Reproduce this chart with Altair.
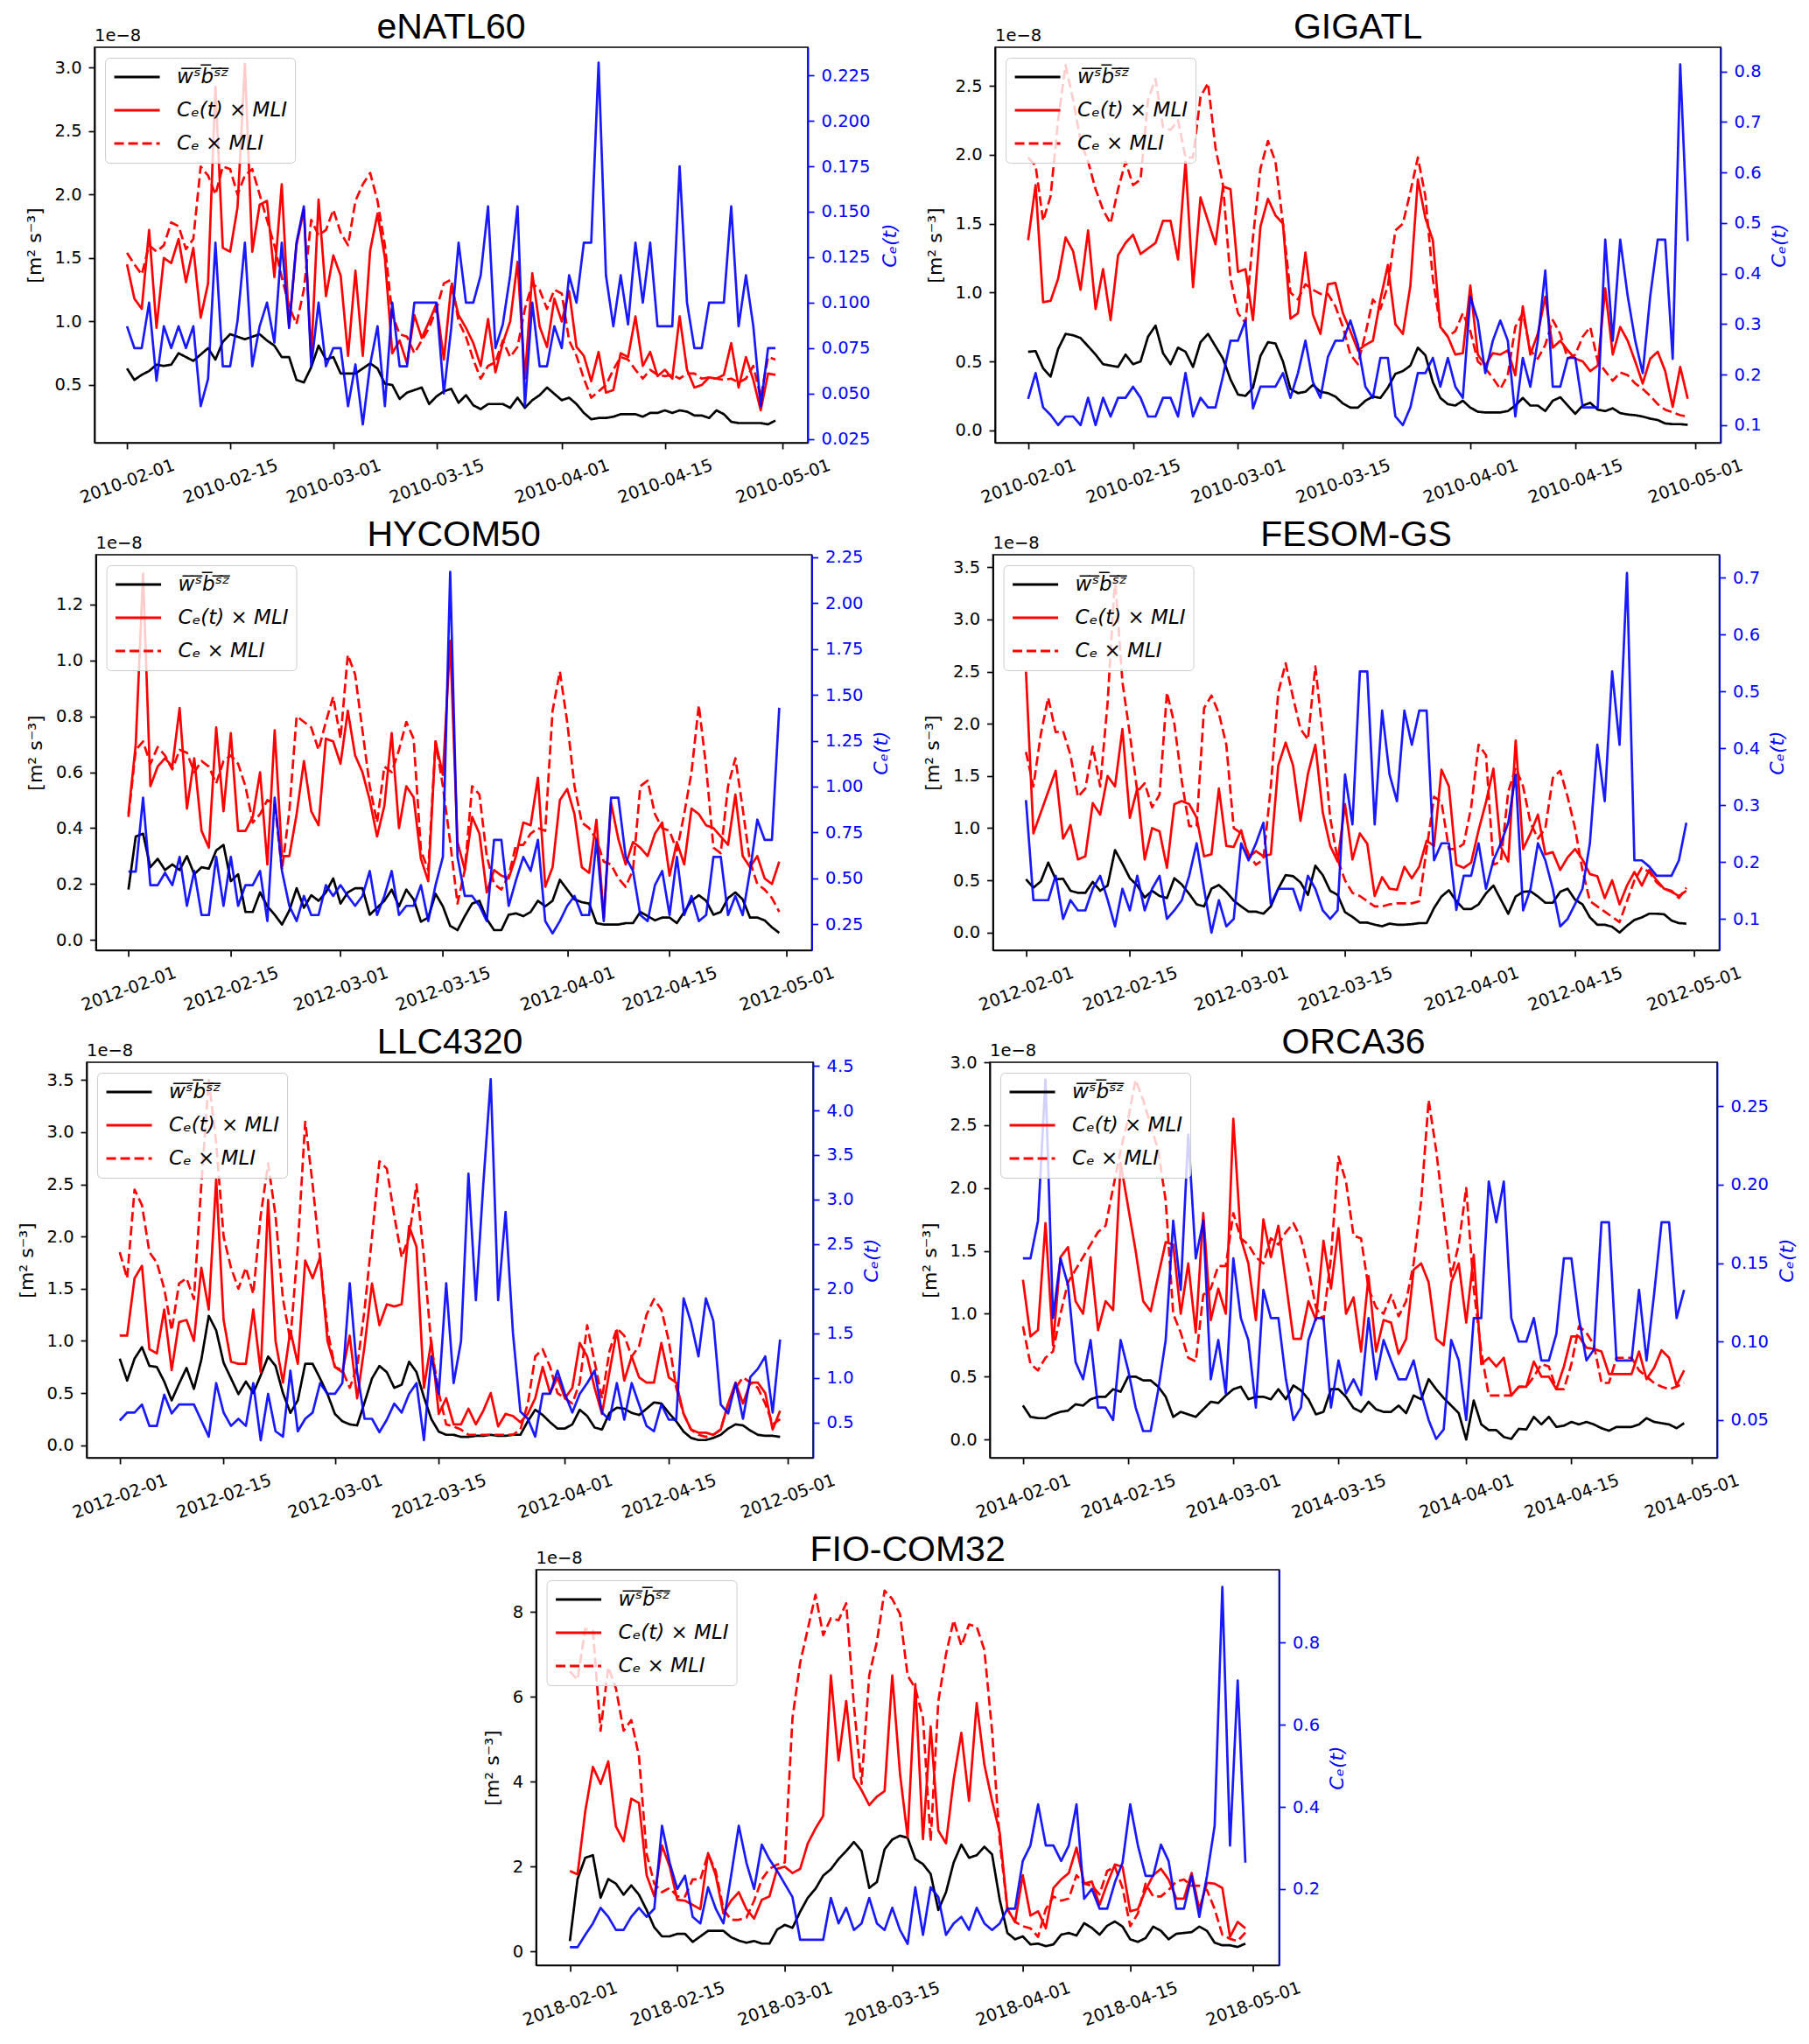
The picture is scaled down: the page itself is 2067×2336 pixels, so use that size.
import altair as alt
import pandas as pd

# ---------------- data (left-axis values in units of 1e-8 m^2 s^-3) ----------------
ENATL60_START = "2010-02-01"
ENATL60_W = [0.63,0.54,0.58,0.61,0.66,0.65,0.66,0.75,0.72,0.69,
             0.74,0.79,0.70,0.84,0.90,0.88,0.86,0.88,0.90,0.85,
             0.81,0.72,0.72,0.54,0.52,0.64,0.81,0.70,0.72,0.59,
             0.59,0.59,0.63,0.67,0.63,0.51,0.50,0.39,0.44,0.46,
             0.48,0.35,0.41,0.45,0.47,0.36,0.42,0.34,0.31,0.35,
             0.35,0.35,0.32,0.40,0.32,0.38,0.42,0.48,0.43,0.38,
             0.40,0.35,0.28,0.23,0.24,0.24,0.25,0.27,0.27,0.27,
             0.25,0.28,0.28,0.30,0.28,0.30,0.29,0.26,0.26,0.24,
             0.30,0.27,0.21,0.20,0.20,0.20,0.20,0.19,0.22]
ENATL60_CET = [1.45,1.18,1.10,1.72,0.95,1.50,1.46,1.65,1.31,1.58,
               1.03,1.30,2.85,1.58,1.55,1.90,3.03,1.55,1.92,1.95,
               1.35,2.08,0.96,1.60,1.88,0.72,1.96,1.20,1.52,1.36,
               0.73,1.40,0.73,1.56,1.85,1.50,0.75,0.85,0.67,1.05,
               0.87,1.00,1.14,0.70,1.28,1.05,0.95,0.83,0.65,1.02,
               0.60,0.83,1.00,1.47,0.55,1.38,0.96,0.80,1.18,1.00,
               1.24,0.80,0.73,0.53,0.76,0.44,0.46,0.75,0.72,1.04,
               0.65,0.76,0.57,0.62,0.55,1.04,0.62,0.48,0.50,0.56,
               0.55,0.58,0.83,0.48,0.72,0.54,0.30,0.59,0.58]
ENATL60_CE = [1.54,1.45,1.37,1.60,1.55,1.60,1.78,1.75,1.57,1.65,
              2.22,2.15,2.00,2.22,2.20,2.00,2.15,2.20,2.00,1.80,
              1.60,1.35,1.12,0.98,1.25,1.80,1.68,1.72,1.88,1.70,
              1.60,1.95,2.08,2.17,1.95,1.60,1.05,0.90,0.88,0.75,
              0.85,0.95,1.10,1.30,1.33,1.00,0.88,0.70,0.55,0.65,
              0.68,0.85,0.72,0.80,1.10,1.30,1.25,1.10,1.25,1.22,
              0.85,0.73,0.55,0.40,0.45,0.50,0.62,0.72,0.70,0.62,
              0.55,0.62,0.58,0.57,0.58,0.55,0.59,0.59,0.55,0.56,
              0.55,0.54,0.55,0.52,0.55,0.65,0.40,0.72,0.70]
ENATL60_C = [0.087,0.075,0.075,0.100,0.057,0.087,0.075,0.087,0.075,0.087,
             0.043,0.058,0.133,0.065,0.065,0.090,0.133,0.065,0.087,0.100,
             0.078,0.133,0.086,0.133,0.153,0.065,0.100,0.065,0.075,0.075,
             0.043,0.066,0.033,0.066,0.087,0.043,0.100,0.065,0.065,0.100,
             0.100,0.100,0.100,0.050,0.086,0.133,0.100,0.100,0.115,0.153,
             0.075,0.088,0.115,0.153,0.043,0.100,0.065,0.065,0.087,0.075,
             0.115,0.100,0.133,0.133,0.232,0.115,0.087,0.115,0.088,0.133,
             0.100,0.133,0.087,0.087,0.087,0.175,0.100,0.075,0.075,0.100,
             0.100,0.100,0.153,0.087,0.115,0.087,0.043,0.075,0.075]

GIGATL_START = "2010-02-01"
GIGATL_W = [0.57,0.575,0.45,0.39,0.59,0.70,0.69,0.67,0.61,0.55,
            0.48,0.47,0.46,0.55,0.48,0.50,0.68,0.76,0.56,0.48,
            0.60,0.57,0.46,0.64,0.70,0.61,0.52,0.37,0.26,0.25,
            0.31,0.54,0.64,0.63,0.50,0.30,0.27,0.28,0.33,0.28,
            0.27,0.245,0.195,0.165,0.165,0.215,0.245,0.235,0.31,0.41,
            0.43,0.47,0.60,0.545,0.35,0.235,0.19,0.18,0.215,0.165,
            0.135,0.13,0.13,0.13,0.14,0.18,0.235,0.18,0.18,0.14,
            0.215,0.24,0.18,0.12,0.18,0.20,0.15,0.14,0.16,0.125,
            0.115,0.11,0.10,0.085,0.075,0.05,0.045,0.045,0.04]
GIGATL_CET = [1.38,1.78,0.93,0.94,1.10,1.40,1.30,1.02,1.45,0.88,
              1.17,0.80,1.27,1.36,1.42,1.28,1.32,1.36,1.52,1.52,
              1.24,1.95,1.04,1.69,1.52,1.35,1.77,1.75,1.15,1.17,
              0.80,1.48,1.68,1.56,1.50,0.81,0.85,1.29,0.84,0.70,
              1.06,1.07,0.85,0.72,0.58,0.62,0.65,0.95,1.20,0.77,
              0.70,1.05,1.82,1.54,1.38,0.75,0.68,0.55,0.56,1.05,
              0.55,0.47,0.56,0.55,0.58,0.40,0.90,0.55,0.70,0.97,
              0.60,0.65,0.58,0.52,0.50,0.43,0.47,1.03,0.55,0.75,
              0.65,0.50,0.34,0.52,0.57,0.43,0.17,0.46,0.23]
GIGATL_CE = [1.98,1.92,1.52,1.70,2.25,2.65,2.40,2.10,1.95,1.75,
             1.60,1.50,1.75,1.95,1.78,1.82,2.40,2.55,2.20,2.18,
             2.25,1.98,1.98,2.42,2.52,2.05,1.78,1.10,0.85,0.78,
             1.40,1.90,2.10,1.95,1.50,1.00,0.95,1.06,1.02,0.99,
             0.99,0.90,0.75,0.55,0.48,0.70,0.95,0.88,1.05,1.45,
             1.50,1.73,1.98,1.70,1.10,0.75,0.68,0.72,0.85,0.72,
             0.50,0.45,0.38,0.30,0.40,0.75,0.85,0.58,0.52,0.62,
             0.80,0.70,0.52,0.55,0.68,0.75,0.50,0.43,0.36,0.42,
             0.40,0.34,0.30,0.25,0.19,0.15,0.13,0.11,0.10]
GIGATL_C = [0.152,0.203,0.135,0.120,0.100,0.117,0.117,0.100,0.154,0.100,
            0.154,0.117,0.154,0.154,0.176,0.154,0.117,0.117,0.154,0.154,
            0.117,0.203,0.117,0.154,0.135,0.135,0.197,0.267,0.267,0.307,
            0.133,0.176,0.176,0.176,0.203,0.154,0.203,0.267,0.185,0.154,
            0.235,0.267,0.267,0.307,0.259,0.176,0.154,0.233,0.233,0.117,
            0.100,0.135,0.203,0.203,0.233,0.176,0.233,0.176,0.154,0.354,
            0.307,0.203,0.267,0.307,0.267,0.117,0.233,0.176,0.267,0.406,
            0.176,0.176,0.233,0.233,0.135,0.135,0.135,0.467,0.267,0.467,
            0.355,0.267,0.203,0.355,0.467,0.467,0.231,0.814,0.464]

HYCOM50_START = "2012-02-01"
HYCOM50_W = [0.18,0.37,0.38,0.26,0.29,0.25,0.27,0.25,0.30,0.235,
             0.26,0.255,0.32,0.34,0.21,0.235,0.10,0.10,0.17,0.12,
             0.09,0.055,0.105,0.185,0.115,0.16,0.14,0.17,0.22,0.13,
             0.17,0.185,0.185,0.09,0.115,0.14,0.18,0.12,0.18,0.145,
             0.065,0.08,0.165,0.12,0.05,0.035,0.085,0.13,0.14,0.075,
             0.035,0.035,0.09,0.095,0.085,0.10,0.14,0.12,0.14,0.215,
             0.18,0.145,0.135,0.13,0.06,0.055,0.055,0.055,0.06,0.06,
             0.10,0.085,0.07,0.08,0.08,0.06,0.10,0.14,0.16,0.14,
             0.09,0.10,0.15,0.17,0.145,0.08,0.08,0.07,0.045,0.025]
HYCOM50_CET = [0.45,0.70,1.31,0.55,0.62,0.65,0.62,0.83,0.47,0.65,
               0.39,0.33,0.76,0.46,0.74,0.39,0.39,0.44,0.60,0.27,
               0.75,0.30,0.30,0.45,0.64,0.46,0.41,0.72,0.71,0.63,
               0.82,0.66,0.60,0.50,0.37,0.48,0.74,0.40,0.55,0.51,
               0.29,0.21,0.71,0.59,1.07,0.35,0.25,0.44,0.38,0.17,
               0.25,0.23,0.22,0.30,0.42,0.41,0.58,0.19,0.26,0.50,
               0.54,0.45,0.26,0.24,0.43,0.08,0.49,0.36,0.27,0.35,
               0.33,0.30,0.38,0.42,0.23,0.35,0.27,0.47,0.45,0.41,
               0.40,0.37,0.34,0.52,0.30,0.26,0.30,0.22,0.20,0.28]
HYCOM50_CE = [0.44,0.68,0.71,0.63,0.69,0.66,0.61,0.68,0.67,0.60,
              0.64,0.62,0.56,0.64,0.66,0.63,0.55,0.42,0.45,0.50,
              0.49,0.25,0.46,0.80,0.78,0.76,0.68,0.78,0.87,0.72,
              1.02,0.95,0.75,0.55,0.42,0.62,0.60,0.68,0.78,0.72,
              0.32,0.25,0.71,0.55,0.35,0.13,0.25,0.55,0.52,0.30,
              0.20,0.18,0.23,0.34,0.34,0.38,0.40,0.39,0.82,0.96,
              0.78,0.55,0.42,0.40,0.36,0.28,0.27,0.22,0.19,0.25,
              0.55,0.57,0.45,0.40,0.39,0.32,0.45,0.60,0.84,0.62,
              0.33,0.31,0.55,0.65,0.47,0.28,0.20,0.18,0.15,0.10]
HYCOM50_C = [0.537,0.537,0.94,0.463,0.463,0.53,0.463,0.617,0.35,0.54,
             0.30,0.30,0.617,0.35,0.617,0.35,0.463,0.463,0.54,0.267,
             0.94,0.54,0.35,0.267,0.404,0.30,0.30,0.463,0.404,0.463,
             0.404,0.35,0.404,0.54,0.30,0.404,0.54,0.30,0.35,0.35,
             0.463,0.267,0.463,0.617,2.17,0.617,0.404,0.404,0.35,0.267,
             0.71,0.71,0.35,0.49,0.617,0.54,0.71,0.267,0.20,0.267,
             0.35,0.404,0.30,0.30,0.71,0.267,0.94,0.94,0.617,0.54,
             0.30,0.267,0.463,0.54,0.30,0.617,0.30,0.404,0.267,0.30,
             0.617,0.617,0.30,0.404,0.30,0.54,0.82,0.71,0.71,1.43]

FESOM_START = "2012-02-01"
FESOM_W = [0.51,0.43,0.49,0.67,0.51,0.515,0.40,0.38,0.38,0.485,
           0.40,0.45,0.79,0.66,0.52,0.45,0.335,0.40,0.35,0.33,
           0.52,0.46,0.37,0.27,0.25,0.42,0.455,0.39,0.305,0.25,
           0.20,0.20,0.18,0.25,0.42,0.55,0.54,0.48,0.36,0.64,
           0.55,0.40,0.36,0.195,0.15,0.095,0.095,0.075,0.06,0.085,
           0.075,0.075,0.08,0.09,0.09,0.235,0.345,0.405,0.30,0.225,
           0.225,0.27,0.375,0.45,0.315,0.18,0.345,0.39,0.395,0.345,
           0.285,0.285,0.39,0.42,0.315,0.27,0.145,0.075,0.075,0.055,
           0.0,0.065,0.12,0.145,0.18,0.18,0.175,0.115,0.09,0.085]
FESOM_CET = [2.50,0.95,1.15,1.35,1.55,0.90,1.03,0.70,0.73,1.24,
             1.13,1.50,1.40,1.95,1.10,1.38,0.70,1.00,0.97,0.62,
             1.23,1.26,1.23,1.10,0.73,0.75,1.38,0.83,0.82,0.98,
             0.72,0.78,0.73,0.75,1.60,1.82,1.60,1.07,1.52,1.80,
             1.15,0.83,0.68,1.23,0.70,0.95,0.85,0.35,0.53,0.42,
             0.41,0.63,0.52,0.63,0.88,0.83,1.56,1.40,0.65,0.62,
             0.67,0.98,1.25,1.57,0.82,0.68,1.84,0.80,0.95,1.13,
             0.75,0.77,0.60,0.72,0.80,0.70,0.56,0.54,0.33,0.50,
             0.27,0.45,0.58,0.45,0.60,0.50,0.42,0.39,0.35,0.40]
FESOM_CE = [1.73,1.40,1.90,2.25,1.92,1.93,1.70,1.30,1.38,1.78,
            1.40,2.20,3.40,2.40,1.90,1.35,1.43,1.20,1.32,2.30,
            2.00,1.45,1.02,1.02,2.15,2.27,2.10,
            1.80,1.00,0.95,0.75,0.65,0.70,1.40,2.30,2.58,2.25,
            1.95,1.85,2.55,1.90,1.10,0.70,0.50,0.38,0.35,0.30,
            0.25,0.25,0.27,0.28,0.28,0.28,0.30,
            0.80,1.30,1.25,0.80,0.80,0.85,
            1.20,1.80,1.70,0.65,0.68,1.35,1.58,1.40,1.05,0.90,
            1.00,1.48,1.55,1.30,1.00,0.60,0.30,0.25,0.20,0.15,
            0.10,0.30,0.50,0.62,0.58,0.48,0.42,0.40,0.33,0.43]
FESOM_C = [0.309,0.133,0.133,0.133,0.176,0.100,0.133,0.115,0.115,0.153,
           0.176,0.134,0.087,0.153,0.115,0.176,0.115,0.153,0.176,0.100,
           0.115,0.133,0.176,0.233,0.153,0.076,0.133,0.087,0.100,0.233,
           0.203,0.233,0.269,0.126,0.153,0.153,0.153,0.115,0.176,0.153,
           0.115,0.100,0.115,0.354,0.266,0.535,0.535,0.266,0.466,0.354,
           0.307,0.466,0.406,0.466,0.466,0.203,0.233,0.233,0.116,0.176,
           0.176,0.233,0.153,0.203,0.233,0.269,0.354,0.115,0.153,0.233,
           0.203,0.153,0.087,0.100,0.126,0.153,0.233,0.406,0.307,0.535,
           0.406,0.708,0.203,0.203,0.192,0.176,0.176,0.176,0.203,0.269]

LLC4320_START = "2012-02-01"
LLC4320_W = [0.83,0.62,0.83,0.94,0.76,0.75,0.61,0.43,0.59,0.74,
             0.54,0.82,1.24,1.10,0.79,0.64,0.49,0.61,0.50,0.67,
             0.85,0.76,0.50,0.31,0.43,0.78,0.78,0.64,0.49,0.30,
             0.23,0.20,0.19,0.41,0.64,0.76,0.70,0.55,0.58,0.80,
             0.70,0.46,0.25,0.13,0.10,0.10,0.08,0.08,0.09,0.09,
             0.10,0.09,0.09,0.10,0.10,0.23,0.34,0.29,0.22,0.16,
             0.16,0.20,0.34,0.28,0.17,0.15,0.31,0.36,0.35,0.31,
             0.29,0.35,0.41,0.40,0.31,0.23,0.13,0.07,0.05,0.05,
             0.07,0.10,0.16,0.20,0.19,0.14,0.10,0.09,0.09,0.08]
LLC4320_CET = [1.05,1.05,1.60,1.72,0.92,0.88,1.30,0.72,1.18,1.20,
               1.00,1.70,1.30,2.55,1.20,0.80,0.78,0.78,1.30,0.70,
               2.35,1.00,0.60,1.10,0.78,1.77,1.60,1.80,1.00,0.75,
               0.70,1.05,0.45,0.95,1.55,1.15,1.35,1.33,1.35,2.10,
               1.90,0.55,1.00,0.30,0.45,0.20,0.20,0.35,0.20,0.33,
               0.50,0.18,0.30,0.28,0.22,0.30,0.45,0.75,0.50,0.65,
               0.45,0.55,0.98,0.85,0.55,0.30,0.70,1.10,0.62,0.85,
               0.65,0.60,0.60,0.98,0.65,0.60,0.30,0.15,0.12,0.12,
               0.10,0.15,0.40,0.60,0.40,0.60,0.60,0.50,0.15,0.33]
LLC4320_CE = [1.85,1.60,2.45,2.30,1.85,1.75,1.50,1.10,1.55,1.60,
              1.40,2.50,3.50,2.90,2.00,1.70,1.50,1.70,1.45,2.20,
              2.70,2.20,1.40,1.00,1.90,3.10,2.50,1.80,1.10,0.75,
              0.72,0.55,0.75,1.30,2.00,2.72,2.65,2.20,1.80,2.00,
              2.50,1.80,0.95,0.50,0.20,0.18,0.15,0.10,0.10,0.10,
              0.10,0.10,0.10,0.10,0.15,0.40,0.85,0.92,0.75,0.50,
              0.45,0.40,0.60,1.15,0.80,0.45,0.90,1.12,1.05,0.85,
              0.95,1.25,1.40,1.30,1.00,0.55,0.30,0.15,0.10,0.08,
              0.10,0.15,0.40,0.55,0.65,0.60,0.55,0.40,0.20,0.25]
LLC4320_C = [0.52,0.61,0.61,0.70,0.46,0.46,0.81,0.60,0.70,0.70,
             0.70,0.52,0.34,0.94,0.61,0.46,0.54,0.46,0.94,0.30,
             0.82,0.40,0.34,1.08,0.40,0.54,0.61,0.94,0.82,0.82,
             0.94,2.06,1.06,0.54,0.54,0.39,0.53,0.71,0.61,0.82,
             0.94,0.30,1.24,0.82,2.06,0.94,1.41,3.29,1.87,3.17,
             4.35,1.87,2.86,1.50,0.62,0.54,0.34,0.82,0.82,1.08,
             0.82,0.61,0.82,0.94,1.08,0.61,0.53,0.94,0.53,0.94,
             0.70,0.46,0.40,0.70,0.53,0.53,1.89,1.62,1.24,1.89,
             1.64,0.70,0.60,0.94,0.54,1.01,1.10,1.24,0.61,1.43]

ORCA36_START = "2014-02-01"
ORCA36_W = [0.27,0.18,0.17,0.17,0.20,0.22,0.23,0.28,0.27,0.32,
            0.34,0.34,0.40,0.38,0.50,0.50,0.47,0.47,0.42,0.34,
            0.18,0.22,0.20,0.18,0.24,0.30,0.29,0.35,0.40,0.42,
            0.32,0.34,0.34,0.32,0.40,0.32,0.43,0.39,0.32,0.20,
            0.22,0.40,0.40,0.34,0.25,0.22,0.30,0.24,0.22,0.22,
            0.27,0.21,0.35,0.32,0.48,0.40,0.33,0.27,0.21,0.00,
            0.31,0.12,0.075,0.075,0.02,0.005,0.085,0.08,0.18,0.12,
            0.18,0.10,0.11,0.14,0.12,0.14,0.12,0.09,0.07,0.10,
            0.10,0.10,0.12,0.17,0.14,0.13,0.12,0.09,0.13]
ORCA36_CET = [1.27,0.82,0.87,1.72,0.75,1.45,1.53,1.10,1.00,1.45,
              0.87,1.10,1.03,2.20,1.85,1.50,1.10,1.02,1.30,1.57,
              1.55,1.00,1.40,0.85,1.80,0.95,1.20,1.00,2.55,1.60,
              1.40,0.95,1.75,1.45,1.70,1.25,0.80,0.80,1.10,0.95,
              1.58,1.20,1.68,1.00,1.13,0.70,1.30,0.70,0.95,0.93,
              0.68,0.80,1.35,1.40,1.25,0.80,0.75,1.25,1.40,0.93,
              1.47,0.60,0.65,0.58,0.65,0.35,0.42,0.42,0.62,0.50,
              0.50,0.40,0.58,0.82,0.82,0.73,0.72,0.70,0.52,0.52,
              0.52,0.52,0.70,0.48,0.57,0.71,0.65,0.43,0.55]
ORCA36_CE = [0.90,0.60,0.55,0.65,0.70,1.00,1.25,1.35,1.45,1.55,
             1.65,1.70,2.00,2.30,2.55,2.86,2.70,2.50,2.30,1.90,
             1.00,0.85,0.65,0.62,1.15,1.20,1.38,1.38,1.80,1.60,
             1.55,1.45,1.40,1.60,1.55,1.65,1.72,1.60,1.35,1.05,
             0.95,1.45,2.25,2.05,1.62,1.60,1.20,1.05,1.00,1.15,
             0.98,1.10,1.40,1.90,2.70,2.30,1.80,1.30,1.55,2.00,
             1.20,0.70,0.35,0.35,0.35,0.35,0.42,0.42,0.50,0.60,
             0.58,0.40,0.40,0.60,0.90,0.85,0.75,0.45,0.45,0.65,
             0.65,0.65,0.55,0.50,0.45,0.42,0.40,0.42,0.45]
ORCA36_C = [0.153,0.153,0.177,0.267,0.115,0.153,0.136,0.087,0.076,0.101,
            0.058,0.058,0.050,0.101,0.082,0.058,0.043,0.043,0.069,0.101,
            0.177,0.133,0.232,0.153,0.177,0.076,0.101,0.067,0.153,0.115,
            0.101,0.058,0.133,0.115,0.115,0.076,0.050,0.058,0.101,0.115,
            0.115,0.058,0.088,0.067,0.076,0.066,0.115,0.076,0.101,0.088,
            0.076,0.076,0.088,0.067,0.050,0.038,0.044,0.101,0.088,0.050,
            0.115,0.115,0.202,0.176,0.202,0.115,0.100,0.100,0.115,0.088,
            0.088,0.105,0.153,0.153,0.115,0.088,0.095,0.176,0.176,0.088,
            0.088,0.088,0.133,0.088,0.130,0.176,0.176,0.115,0.133]

FIO_START = "2018-02-01"
FIO_W = [0.25,1.71,2.21,2.27,1.27,1.71,1.60,1.34,1.56,1.34,
         0.98,0.57,0.36,0.36,0.42,0.42,0.23,0.36,0.49,0.49,
         0.49,0.34,0.26,0.21,0.25,0.19,0.19,0.52,0.63,0.56,
         0.94,1.27,1.48,1.79,1.94,2.18,2.37,2.58,2.37,1.50,
         1.64,2.41,2.64,2.73,2.68,2.18,2.06,1.83,0.98,1.40,
         2.10,2.52,2.21,2.27,2.47,2.29,1.22,0.44,0.29,0.36,
         0.17,0.19,0.13,0.17,0.40,0.44,0.38,0.67,0.56,0.40,
         0.61,0.71,0.59,0.29,0.23,0.32,0.59,0.49,0.29,0.42,
         0.44,0.46,0.59,0.49,0.21,0.15,0.15,0.11,0.19]
FIO_CET = [1.90,1.82,3.30,4.35,3.95,4.48,2.95,2.60,3.60,3.50,
           1.80,1.30,2.50,2.00,1.22,1.20,1.10,1.00,2.32,1.80,
           0.90,1.20,1.40,1.00,0.78,1.22,1.30,1.95,2.00,1.85,
           1.95,2.55,2.90,3.20,6.50,4.50,5.90,4.10,3.80,3.45,
           3.65,3.78,6.50,4.20,2.70,6.30,2.65,5.30,2.85,2.55,
           4.05,5.15,3.55,5.85,4.40,3.55,2.80,1.00,0.70,1.80,
           0.85,0.95,0.55,1.50,1.70,1.85,2.45,1.60,1.65,1.10,
           1.60,2.05,2.00,0.95,1.00,1.45,1.80,1.95,1.70,1.25,
           1.25,1.85,1.00,1.62,1.60,1.50,0.35,0.70,0.55]
FIO_CE = [6.60,6.40,7.60,7.55,5.20,6.70,6.20,5.20,5.45,4.60,
          2.30,1.60,1.40,1.50,1.30,1.30,1.70,1.70,2.30,1.90,
          1.00,0.75,0.75,0.80,1.20,1.70,1.95,2.05,2.10,5.50,
          6.80,7.60,8.40,7.45,7.85,7.80,8.20,5.80,3.95,6.50,
          7.30,8.50,8.30,7.95,6.50,6.20,5.50,2.60,5.90,7.00,
          7.80,7.20,7.70,7.65,7.10,5.20,2.60,1.00,0.70,0.60,
          0.55,0.35,1.00,1.30,1.20,1.25,1.80,1.60,1.55,1.35,
          1.90,2.00,1.50,0.60,0.90,1.60,1.30,1.30,1.45,1.65,
          1.70,1.55,1.55,1.45,1.00,0.40,0.30,0.25,0.45]
FIO_C = [0.058,0.058,0.088,0.116,0.154,0.132,0.100,0.100,0.132,0.154,
         0.132,0.152,0.354,0.264,0.200,0.232,0.132,0.116,0.204,0.152,
         0.116,0.232,0.354,0.264,0.200,0.308,0.272,0.244,0.212,0.180,
         0.076,0.076,0.076,0.076,0.178,0.116,0.154,0.100,0.116,0.178,
         0.116,0.100,0.154,0.100,0.066,0.204,0.088,0.204,0.180,0.088,
         0.116,0.132,0.100,0.154,0.116,0.100,0.116,0.152,0.152,0.268,
         0.306,0.406,0.306,0.306,0.268,0.306,0.406,0.176,0.200,0.152,
         0.152,0.216,0.264,0.406,0.306,0.232,0.232,0.308,0.268,0.152,
         0.152,0.232,0.132,0.232,0.354,0.936,0.306,0.708,0.264]

LABELS = ["w\u0305\u02e2\u0305b\u0305\u02e2\u0305\u1dbb\u0305",
          "C\u2091(t) \u00d7 MLI",
          "C\u2091 \u00d7 MLI"]

PANELS = [
    dict(name="eNATL60", start=ENATL60_START, w=ENATL60_W, cet=ENATL60_CET, ce=ENATL60_CE, c=ENATL60_C,
         ydom=[0.045, 3.16], yt=[0.5, 1.0, 1.5, 2.0, 2.5, 3.0], yf=".1f",
         cdom=[0.0229, 0.2405], ct=[0.025, 0.05, 0.075, 0.1, 0.125, 0.15, 0.175, 0.2, 0.225], cf=".3f",
         width=815, lext=46, rext=73),
    dict(name="GIGATL", start=GIGATL_START, w=GIGATL_W, cet=GIGATL_CET, ce=GIGATL_CE, c=GIGATL_C,
         ydom=[-0.09, 2.78], yt=[0.0, 0.5, 1.0, 1.5, 2.0, 2.5], yf=".1f",
         cdom=[0.065, 0.848], ct=[0.1, 0.2, 0.3, 0.4, 0.5, 0.6, 0.7, 0.8], cf=".1f",
         width=829, lext=46, rext=46),
    dict(name="HYCOM50", start=HYCOM50_START, w=HYCOM50_W, cet=HYCOM50_CET, ce=HYCOM50_CE, c=HYCOM50_C,
         ydom=[-0.037, 1.378], yt=[0.0, 0.2, 0.4, 0.6, 0.8, 1.0, 1.2], yf=".1f",
         cdom=[0.108, 2.264], ct=[0.25, 0.5, 0.75, 1.0, 1.25, 1.5, 1.75, 2.0, 2.25], cf=".2f",
         width=818, lext=46, rext=59),
    dict(name="FESOM-GS", start=FESOM_START, w=FESOM_W, cet=FESOM_CET, ce=FESOM_CE, c=FESOM_C,
         ydom=[-0.17, 3.62], yt=[0.0, 0.5, 1.0, 1.5, 2.0, 2.5, 3.0, 3.5], yf=".1f",
         cdom=[0.045, 0.740], ct=[0.1, 0.2, 0.3, 0.4, 0.5, 0.6, 0.7], cf=".1f",
         width=830, lext=46, rext=46),
    dict(name="LLC4320", start=LLC4320_START, w=LLC4320_W, cet=LLC4320_CET, ce=LLC4320_CE, c=LLC4320_C,
         ydom=[-0.12, 3.67], yt=[0.0, 0.5, 1.0, 1.5, 2.0, 2.5, 3.0, 3.5], yf=".1f",
         cdom=[0.103, 4.54], ct=[0.5, 1.0, 1.5, 2.0, 2.5, 3.0, 3.5, 4.0, 4.5], cf=".1f",
         width=830, lext=46, rext=46),
    dict(name="ORCA36", start=ORCA36_START, w=ORCA36_W, cet=ORCA36_CET, ce=ORCA36_CE, c=ORCA36_C,
         ydom=[-0.145, 3.0], yt=[0.0, 0.5, 1.0, 1.5, 2.0, 2.5, 3.0], yf=".1f",
         cdom=[0.026, 0.278], ct=[0.05, 0.1, 0.15, 0.2, 0.25], cf=".2f",
         width=831, lext=46, rext=59),
    dict(name="FIO-COM32", start=FIO_START, w=FIO_W, cet=FIO_CET, ce=FIO_CE, c=FIO_C,
         ydom=[-0.32, 8.99], yt=[0, 2, 4, 6, 8], yf="d",
         cdom=[0.014, 0.978], ct=[0.2, 0.4, 0.6, 0.8], cf=".1f",
         width=849, lext=28, rext=46),
]

PANEL_H = 452
LW = 2.7


def dt(ts):
    return alt.DateTime(year=int(ts.year), month=int(ts.month), date=int(ts.day),
                        hours=int(ts.hour), minutes=int(ts.minute))


def series_df(start, vals, label=None):
    s = pd.Timestamp(start)
    out = {"date": [(s + pd.Timedelta(days=i)).strftime("%Y-%m-%dT%H:%M:%S") for i in range(len(vals))],
           "value": list(vals)}
    if label is not None:
        out["series"] = [label] * len(vals)
    return pd.DataFrame(out)


def make_panel(p):
    start = pd.Timestamp(p["start"])
    n = len(p["w"])
    span = n - 1
    lo = start - pd.Timedelta(hours=24 * 0.05 * span)
    hi = start + pd.Timedelta(hours=24 * 1.05 * span)
    yr = start.year
    ticks = [pd.Timestamp(f"{yr}-{m}") for m in ["02-01", "02-15", "03-01", "03-15", "04-01", "04-15", "05-01"]]

    left_df = pd.concat([series_df(p["start"], p["w"], LABELS[0]),
                         series_df(p["start"], p["cet"], LABELS[1]),
                         series_df(p["start"], p["ce"], LABELS[2])], ignore_index=True)
    blue_df = series_df(p["start"], p["c"])

    xenc = alt.X("date:T", title=None,
                 scale=alt.Scale(domain=[dt(lo), dt(hi)], nice=False),
                 axis=alt.Axis(values=[dt(t) for t in ticks], format="%Y-%m-%d",
                               labelAngle=340, labelAlign="center", labelBaseline="middle",
                               labelPadding=37, labelFlush=False, labelOverlap=False, grid=False))

    leg = alt.Legend(title=None, orient="top-left", offset=12,
                     fillColor="rgba(255,255,255,0.8)", strokeColor="#cccccc", cornerRadius=5,
                     padding=9, symbolType="stroke", symbolSize=2704, symbolStrokeWidth=2.8,
                     labelFont="DejaVu Sans", labelFontStyle="italic", labelFontSize=23,
                     labelOffset=18, rowPadding=12, clipHeight=26, labelLimit=400)

    left = alt.Chart(left_df).mark_line(strokeWidth=LW, strokeJoin="round").encode(
        x=xenc,
        y=alt.Y("value:Q", title="[m\u00b2 s\u207b\u00b3]",
                scale=alt.Scale(domain=p["ydom"], nice=False, zero=False),
                axis=alt.Axis(orient="left", values=p["yt"], format=p["yf"], grid=False,
                              labelOverlap=False, minExtent=p["lext"], maxExtent=p["lext"],
                              titlePadding=11 if p["lext"] > 30 else 10)),
        color=alt.Color("series:N", scale=alt.Scale(domain=LABELS, range=["black", "red", "red"]), legend=leg),
        strokeDash=alt.StrokeDash("series:N", scale=alt.Scale(domain=LABELS, range=[[1, 0], [1, 0], [11, 5]]),
                                  legend=leg),
    )

    blue = alt.Chart(blue_df).mark_line(color="#0000ff", opacity=0.9, strokeWidth=LW, strokeJoin="round").encode(
        x=xenc,
        y=alt.Y("value:Q", title="C\u2091(t)",
                scale=alt.Scale(domain=p["cdom"], nice=False, zero=False),
                axis=alt.Axis(orient="right", values=p["ct"], format=p["cf"], grid=False,
                              labelOverlap=False, labelColor="blue", tickColor="blue",
                              domainColor="blue", titleColor="blue", titleFontStyle="italic",
                              titleAngle=270, titleBaseline="top",
                              minExtent=p["rext"], maxExtent=p["rext"], titlePadding=10)),
    )

    note = alt.Chart(pd.DataFrame({"t": ["1e\u22128"]})).mark_text(
        align="left", baseline="alphabetic", fontSize=19.5, font="DejaVu Sans", color="black"
    ).encode(text="t:N", x=alt.value(0), y=alt.value(-7))

    return alt.layer(left, blue, note).resolve_scale(y="independent").properties(
        width=p["width"], height=PANEL_H,
        title=alt.TitleParams(p["name"], font="Liberation Sans", fontSize=41, fontWeight="normal",
                              anchor="middle", frame="group", offset=-22, color="black"),
    )


charts = [make_panel(p) for p in PANELS]


def indep(c):
    return c.resolve_scale(color="independent", strokeDash="independent").resolve_legend(
        color="independent", strokeDash="independent")


row1 = indep(alt.hconcat(charts[0], charts[1], spacing=28))
row2 = indep(alt.hconcat(charts[2], charts[3], spacing=35))
row3 = indep(alt.hconcat(charts[4], charts[5], spacing=43))

chart = indep(alt.vconcat(row1, row2, row3, charts[6], spacing=10, center=True)).properties(
    padding={"left": 10, "top": 2, "right": 5, "bottom": 5},
    background="white",
).configure_view(
    stroke="black", strokeWidth=1.7
).configure_axis(
    labelFont="DejaVu Sans", labelFontSize=19.5, labelColor="black",
    titleFont="DejaVu Sans", titleFontSize=22, titleFontWeight="normal", titleColor="black",
    tickSize=7, tickWidth=1.7, tickColor="black", domainWidth=1.7, domainColor="black",
    labelPadding=8, grid=False
)

chart.save("out.html", embed_options={"renderer": "svg", "actions": False})
